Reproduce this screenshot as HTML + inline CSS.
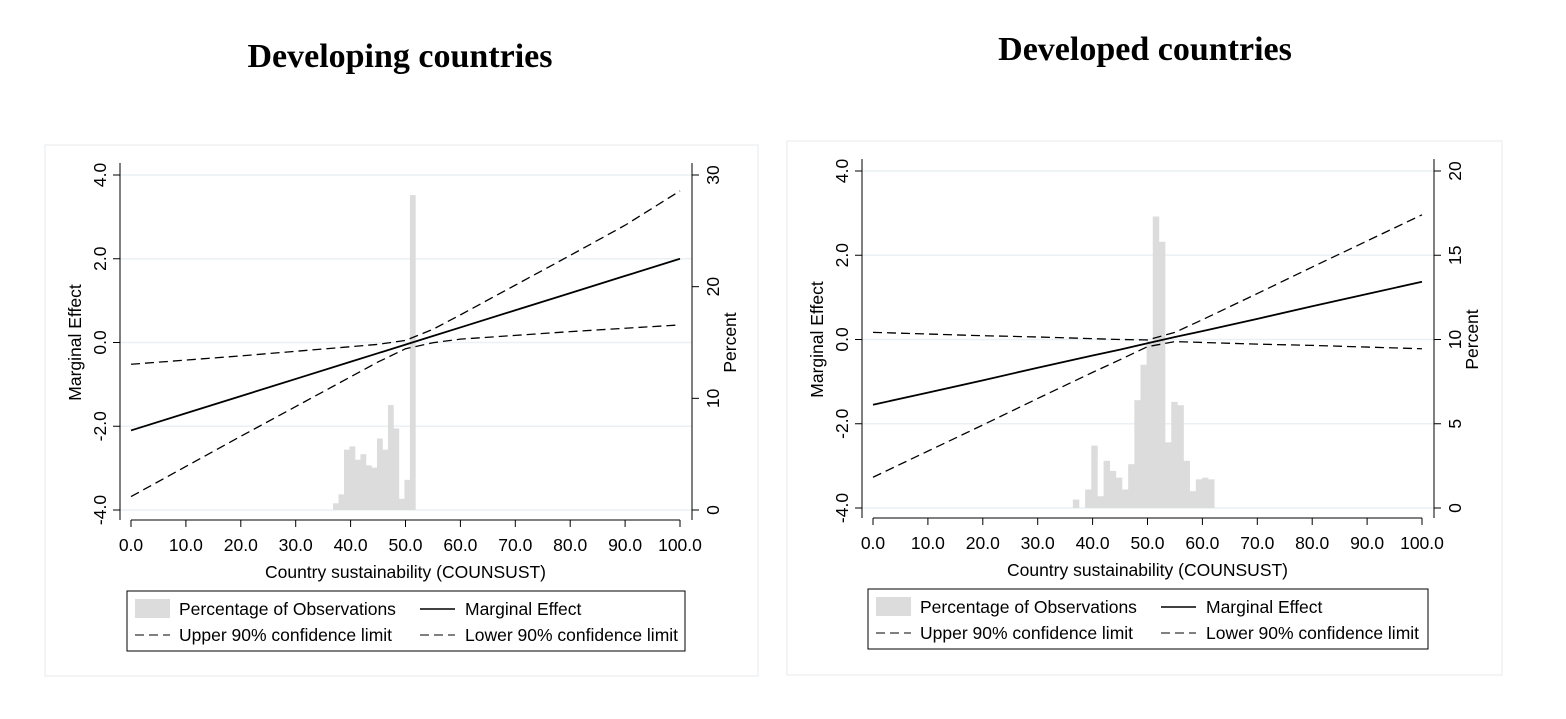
<!DOCTYPE html>
<html><head><meta charset="utf-8"><style>
body{margin:0;background:#fff;width:1566px;height:714px;overflow:hidden}
svg{font-family:"Liberation Sans",sans-serif}
</style></head><body>
<svg id="s" width="1566" height="714">
<text x="400" y="67" text-anchor="middle" font-family="Liberation Serif,serif" font-weight="bold" font-size="34">Developing countries</text>
<text x="1145" y="60" text-anchor="middle" font-family="Liberation Serif,serif" font-weight="bold" font-size="34">Developed countries</text>
</svg>
<script>
const xs=[0,10,20,30,40,45,50,55,60,70,80,90,100];
const meL=[-2.1,-1.69,-1.28,-0.87,-0.46,-0.255,-0.05,0.155,0.36,0.77,1.18,1.59,2.0];
const upL=[-0.52,-0.42,-0.32,-0.21,-0.10,-0.045,0.05,0.315,0.66,1.37,2.08,2.80,3.62];
const loL=[-3.68,-2.96,-2.24,-1.53,-0.82,-0.465,-0.15,-0.005,0.08,0.17,0.26,0.34,0.42];
const histL=[0.6,1.4,5.4,5.7,4.5,5.0,4.0,3.8,6.4,5.4,9.4,7.3,1.0,2.7,28.2];
const histLStart=36.8, histLWidth=1.0;
const meR=[-1.55,-1.26,-0.97,-0.67,-0.38,-0.24,-0.09,0.06,0.20,0.49,0.79,1.08,1.37];
const upR=[0.17,0.13,0.09,0.06,0.02,0.0,-0.01,0.17,0.47,1.09,1.72,2.34,2.96];
const loR=[-3.27,-2.65,-2.03,-1.40,-0.78,-0.48,-0.17,-0.05,-0.07,-0.11,-0.14,-0.18,-0.22];
const histR=[0.5,0,1.1,3.7,0.7,2.8,2.2,1.8,1.1,2.6,6.4,8.5,9.9,17.3,15.8,3.9,6.3,6.1,2.8,1.0,1.7,1.8,1.7];
const histRStart=36.4, histRWidth=1.12;
const xTicks=[0,10,20,30,40,50,60,70,80,90,100];
const yTicks=[-4,-2,0,2,4];
const pTicksL=[0,10,20,30], pTicksR=[0,5,10,15,20];
const NS='http://www.w3.org/2000/svg', S=document.getElementById('s');
const FS=17.5;
function el(t,a,p){const e=document.createElementNS(NS,t);for(const k in a)e.setAttribute(k,a[k]);(p||S).appendChild(e);return e;}
function panel(c){
 const g=el('g',{});
 
 
 const X=v=>c.x0+(v-0)*(c.x1-c.x0)/100, Y=v=>c.y4+(4-v)*(c.ym4-c.y4)/8, P=v=>c.ym4-v*(c.ym4-c.y4)/c.pmax;
 const fr=el('rect',{x:c.fx,y:c.fy,width:c.fw,height:c.fh,fill:'none',stroke:'#e6eaee'},g);
 
 yTicks.forEach(v=>{const l=el('line',{x1:c.ax,x2:c.bx,y1:Y(v),y2:Y(v),stroke:'#eaf0f3','stroke-width':1.5},g);
  });
 c.hist.forEach((v,i)=>{if(!v)return;const a=X(c.hs+i*c.hw),b=X(c.hs+(i+1)*c.hw);
  const r=el('rect',{x:a,y:P(v),width:b-a+0.3,height:P(0)-P(v),fill:'#dcdcdc'},g);
  });
 const line=(arr,dash,nm)=>{const p=el('polyline',{points:xs.map((x,i)=>X(x)+','+Y(arr[i])).join(' '),fill:'none',stroke:'#000','stroke-width':dash?1.3:1.8,'stroke-dasharray':dash?'9 5':''},g);
  };
 line(c.up,1,'upper-90-ci-line');line(c.lo,1,'lower-90-ci-line');line(c.me,0,'marginal-effect-line');
 const ax={stroke:'#000','stroke-width':1};
 el('line',Object.assign({x1:c.ax,x2:c.ax,y1:c.y4-12,y2:c.ym4+10},ax),g);
 el('line',Object.assign({x1:c.bx,x2:c.bx,y1:c.y4-12,y2:c.ym4+10},ax),g);
 el('line',Object.assign({x1:X(0),x2:X(100),y1:c.by,y2:c.by},ax),g);
 yTicks.forEach(v=>{el('line',Object.assign({x1:c.ax-7,x2:c.ax,y1:Y(v),y2:Y(v)},ax),g);
  const t=el('text',{x:0,y:0,transform:`translate(${c.ax-14},${Y(v)}) rotate(-90)`,'text-anchor':'middle','font-size':FS},g);t.textContent=v.toFixed(1);
  });
 c.pt.forEach(v=>{el('line',Object.assign({x1:c.bx,x2:c.bx+7,y1:P(v),y2:P(v)},ax),g);
  const t=el('text',{x:0,y:0,transform:`translate(${c.bx+27},${P(v)}) rotate(-90)`,'text-anchor':'middle','font-size':FS},g);t.textContent=v;
  });
 xTicks.forEach(v=>{el('line',Object.assign({x1:X(v),x2:X(v),y1:c.by,y2:c.by+7},ax),g);
  const t=el('text',{x:X(v),y:c.by+31,'text-anchor':'middle','font-size':FS},g);t.textContent=v.toFixed(1);
  });
 let t=el('text',{x:0,y:0,transform:`translate(${c.ax-39},${Y(0)}) rotate(-90)`,'text-anchor':'middle','font-size':FS},g);t.textContent='Marginal Effect';
 
 t=el('text',{x:0,y:0,transform:`translate(${c.bx+44},${Y(0)}) rotate(-90)`,'text-anchor':'middle','font-size':FS},g);t.textContent='Percent';
 
 t=el('text',{x:(X(0)+X(100))/2,y:c.by+58,'text-anchor':'middle','font-size':FS},g);t.textContent='Country sustainability (COUNSUST)';
 
 const lx=c.lx,ly=c.ly;
 const lg=el('g',{},g);
 el('rect',{x:lx,y:ly,width:c.lw,height:60,fill:'none',stroke:'#000'},lg);
 el('rect',{x:lx+8,y:ly+8,width:35,height:19,fill:'#dcdcdc'},lg);
 el('line',{x1:lx+293,x2:lx+328,y1:ly+18,y2:ly+18,stroke:'#000','stroke-width':1.5},lg);
 el('line',{x1:lx+8,x2:lx+43,y1:ly+44,y2:ly+44,stroke:'#000','stroke-dasharray':'9 5'},lg);
 el('line',{x1:lx+293,x2:lx+328,y1:ly+44,y2:ly+44,stroke:'#000','stroke-dasharray':'9 5'},lg);
 [['Percentage of Observations',52,24],['Marginal Effect',338,24],['Upper 90% confidence limit',52,50],['Lower 90% confidence limit',338,50]].forEach(d=>{
  const e=el('text',{x:lx+d[1],y:ly+d[2],'font-size':FS},lg);e.textContent=d[0];
  });
}
panel({name:'developing-chart',fx:45,fy:145,fw:713,fh:531,x0:131,x1:680,y4:175,ym4:510,ax:120,bx:692,by:520,pmax:30,pt:pTicksL,me:meL,up:upL,lo:loL,hist:histL,hs:histLStart,hw:histLWidth,lx:127,ly:591,lw:558});
panel({name:'developed-chart',fx:787,fy:141,fw:715,fh:534,x0:873,x1:1422,y4:171,ym4:508,ax:862,bx:1434,by:518,pmax:20,pt:pTicksR,me:meR,up:upR,lo:loR,hist:histR,hs:histRStart,hw:histRWidth,lx:868,ly:589,lw:560});
</script>
</body></html>
